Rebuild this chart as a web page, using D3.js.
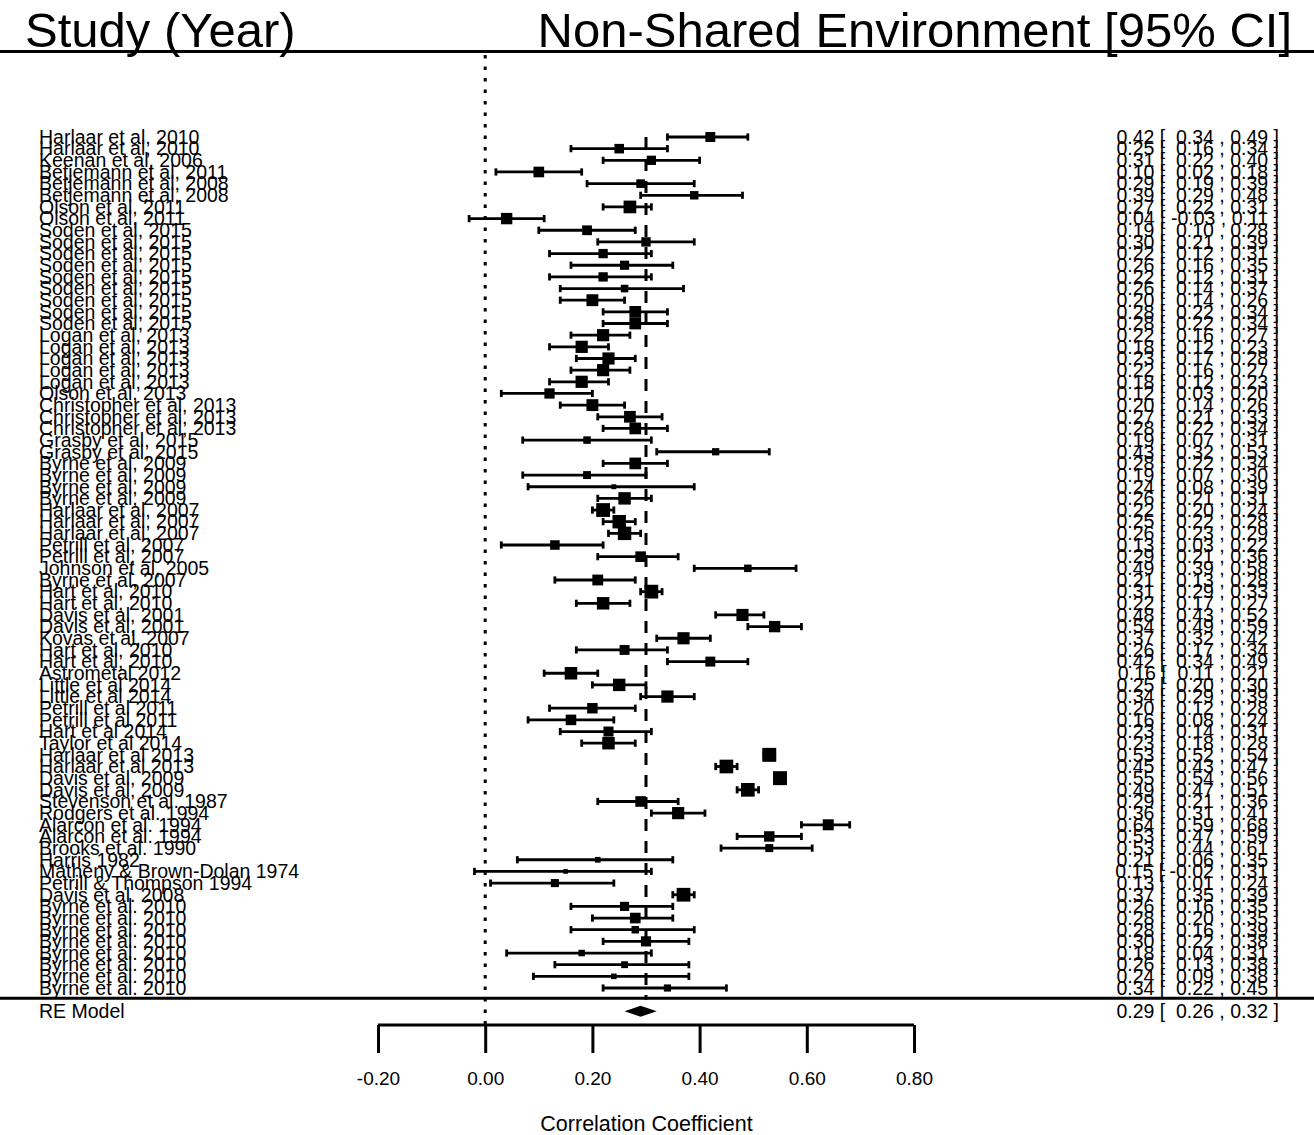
<!DOCTYPE html>
<html>
<head>
<meta charset="utf-8">
<script src="https://cdn.jsdelivr.net/npm/d3@7"></script>
<style>
  html, body { margin: 0; padding: 0; background: #fff; }
  svg { display: block; }
  text { font-family: "Liberation Sans", Arial, sans-serif; fill: #000; }
</style>
</head>
<body>
<svg id="chart" width="1314" height="1135"></svg>
<script>
// Study labels, top to bottom
const studies = [
  "Harlaar et al, 2010", "Harlaar et al, 2010", "Keenan et al, 2006", "Betjemann et al, 2011",
  "Betjemann et al, 2008", "Betjemann et al, 2008", "Olson et al, 2011", "Olson et al, 2011",
  "Soden et al, 2015", "Soden et al, 2015", "Soden et al, 2015", "Soden et al, 2015",
  "Soden et al, 2015", "Soden et al, 2015", "Soden et al, 2015", "Soden et al, 2015",
  "Soden et al, 2015", "Logan et al, 2013", "Logan et al, 2013", "Logan et al, 2013",
  "Logan et al, 2013", "Logan et al, 2013", "Olson et al, 2013", "Christopher et al, 2013",
  "Christopher et al, 2013", "Christopher et al, 2013", "Grasby et al, 2015", "Grasby et al, 2015",
  "Byrne et al, 2009", "Byrne et al, 2009", "Byrne et al, 2009", "Byrne et al, 2009",
  "Harlaar et al, 2007", "Harlaar et al, 2007", "Harlaar et al, 2007", "Petrill et al, 2007",
  "Petrill et al, 2007", "Johnson et al, 2005", "Byrne et al, 2007", "Hart et al, 2010",
  "Hart et al, 2010", "Davis et al, 2001", "Davis et al, 2001", "Kovas et al, 2007",
  "Hart et al, 2010", "Hart et al, 2010", "Astrometal 2012", "Little et al 2014",
  "Little et al 2014", "Petrill et al 2011", "Petrill et al 2011", "Hart et al 2014",
  "Taylor et al 2014", "Harlaar et al 2013", "Harlaar et al 2013", "Davis et al, 2009",
  "Davis et al, 2009", "Stevenson et al. 1987", "Rodgers et al. 1994", "Alarcon et al. 1994",
  "Alarcon et al. 1994", "Brooks et al. 1990", "Harris 1982", "Matheny & Brown-Dolan 1974",
  "Petrill & Thompson 1994", "Davis et al. 2008", "Byrne et al. 2010", "Byrne et al. 2010",
  "Byrne et al. 2010", "Byrne et al. 2010", "Byrne et al. 2010", "Byrne et al. 2010",
  "Byrne et al. 2010", "Byrne et al. 2010"
];

// Correlation estimates
const estimates = [
  0.42, 0.25, 0.31, 0.10, 0.29, 0.39, 0.27, 0.04,
  0.19, 0.30, 0.22, 0.26, 0.22, 0.26, 0.20, 0.28,
  0.28, 0.22, 0.18, 0.23, 0.22, 0.18, 0.12, 0.20,
  0.27, 0.28, 0.19, 0.43, 0.28, 0.19, 0.24, 0.26,
  0.22, 0.25, 0.26, 0.13, 0.29, 0.49, 0.21, 0.31,
  0.22, 0.48, 0.54, 0.37, 0.26, 0.42, 0.16, 0.25,
  0.34, 0.20, 0.16, 0.23, 0.23, 0.53, 0.45, 0.55,
  0.49, 0.29, 0.36, 0.64, 0.53, 0.53, 0.21, 0.15,
  0.13, 0.37, 0.26, 0.28, 0.28, 0.30, 0.18, 0.26,
  0.24, 0.34
];

// Lower 95% CI bounds
const lowerCI = [
  0.34, 0.16, 0.22, 0.02, 0.19, 0.29, 0.22, -0.03,
  0.10, 0.21, 0.12, 0.16, 0.12, 0.14, 0.14, 0.22,
  0.22, 0.16, 0.12, 0.17, 0.16, 0.12, 0.03, 0.14,
  0.21, 0.22, 0.07, 0.32, 0.22, 0.07, 0.08, 0.21,
  0.20, 0.22, 0.23, 0.03, 0.21, 0.39, 0.13, 0.29,
  0.17, 0.43, 0.49, 0.32, 0.17, 0.34, 0.11, 0.20,
  0.29, 0.12, 0.08, 0.14, 0.18, 0.52, 0.43, 0.54,
  0.47, 0.21, 0.31, 0.59, 0.47, 0.44, 0.06, -0.02,
  0.01, 0.35, 0.16, 0.20, 0.16, 0.22, 0.04, 0.13,
  0.09, 0.22
];

// Upper 95% CI bounds
const upperCI = [
  0.49, 0.34, 0.40, 0.18, 0.39, 0.48, 0.31, 0.11,
  0.28, 0.39, 0.31, 0.35, 0.31, 0.37, 0.26, 0.34,
  0.34, 0.27, 0.23, 0.28, 0.27, 0.23, 0.20, 0.26,
  0.33, 0.34, 0.31, 0.53, 0.34, 0.30, 0.39, 0.31,
  0.24, 0.28, 0.29, 0.22, 0.36, 0.58, 0.28, 0.33,
  0.27, 0.52, 0.59, 0.42, 0.34, 0.49, 0.21, 0.30,
  0.39, 0.28, 0.24, 0.31, 0.28, 0.54, 0.47, 0.56,
  0.51, 0.36, 0.41, 0.68, 0.59, 0.61, 0.35, 0.31,
  0.24, 0.39, 0.35, 0.35, 0.39, 0.38, 0.31, 0.38,
  0.38, 0.45
];

// Random-effects summary: estimate, lower, upper
const pooledLabel = "RE Model";
const pooledValues = [0.29, 0.26, 0.32];
const summaryLine = 0.30;        // dashed reference at the overall mean
const nullLine = 0.00;           // dotted reference at zero
const tau2 = 0.008;              // between-study variance used for point weights

const axisTicks = [-0.20, 0.00, 0.20, 0.40, 0.60, 0.80];
const xTitle = "Correlation Coefficient";
const leftHeader = "Study (Year)";
const rightHeader = "Non-Shared Environment [95% CI]";

// ---------------------------------------------------------------
const W = 1314, H = 1135;
const svg = d3.select("#chart");
const n = studies.length;
// two decimals, plain hyphen for negatives
const fmt = v => d3.format(".2f")(v).replace("\u2212", "-");

const x = d3.scaleLinear().domain([-0.2, 0.8]).range([378, 914]);
// rows counted from the bottom: study rows n..1, separator at 0, summary at -1
const y = d3.scaleLinear().domain([1, n]).range([988, 137]);

const rows = studies.map((s, i) => ({
  label: s, est: estimates[i], lb: lowerCI[i], ub: upperCI[i], row: n - i
}));

// point size from random-effects weights (Fisher z scale)
rows.forEach(d => {
  const se = (Math.atanh(d.ub) - Math.atanh(d.lb)) / (2 * 1.96);
  d.w = 1 / (se * se + tau2);
});
const wExt = d3.extent(rows, d => d.w);
const psize = d3.scaleLinear().domain(wExt).range([0.5, 1.5]);
const unit = 9.3;

const capH = 3.6;
const lineW = 2.8;

// headers
svg.append("text").attr("x", 25).attr("y", 47)
  .style("font-size", "49px").text(leftHeader);
svg.append("text").attr("x", 1292).attr("y", 47).attr("text-anchor", "end")
  .style("font-size", "49px").text(rightHeader);
svg.append("line").attr("x1", 0).attr("x2", W).attr("y1", 51.5).attr("y2", 51.5)
  .attr("stroke", "#000").attr("stroke-width", 3);

// reference lines
svg.append("line")
  .attr("x1", x(nullLine)).attr("x2", x(nullLine)).attr("y1", 55).attr("y2", 1030)
  .attr("stroke", "#000").attr("stroke-width", 3).attr("stroke-dasharray", "3.5,8");
svg.append("line")
  .attr("x1", x(summaryLine)).attr("x2", x(summaryLine)).attr("y1", y(n)).attr("y2", y(0))
  .attr("stroke", "#000").attr("stroke-width", 3).attr("stroke-dasharray", "12,10");

// separator line above summary
svg.append("line").attr("x1", 0).attr("x2", W).attr("y1", y(0) - 1.5).attr("y2", y(0) - 1.5)
  .attr("stroke", "#000").attr("stroke-width", 3);

// study rows
const g = svg.append("g");
const rowG = g.selectAll("g.row").data(rows).join("g").attr("class", "row");

rowG.append("line")
  .attr("x1", d => x(d.lb)).attr("x2", d => x(d.ub))
  .attr("y1", d => y(d.row)).attr("y2", d => y(d.row))
  .attr("stroke", "#000").attr("stroke-width", lineW);
rowG.append("line")
  .attr("x1", d => x(d.lb)).attr("x2", d => x(d.lb))
  .attr("y1", d => y(d.row) - capH).attr("y2", d => y(d.row) + capH)
  .attr("stroke", "#000").attr("stroke-width", lineW);
rowG.append("line")
  .attr("x1", d => x(d.ub)).attr("x2", d => x(d.ub))
  .attr("y1", d => y(d.row) - capH).attr("y2", d => y(d.row) + capH)
  .attr("stroke", "#000").attr("stroke-width", lineW);
rowG.append("rect")
  .attr("x", d => x(d.est) - psize(d.w) * unit / 2)
  .attr("y", d => y(d.row) - psize(d.w) * unit / 2)
  .attr("width", d => psize(d.w) * unit)
  .attr("height", d => psize(d.w) * unit)
  .attr("fill", "#000");

const labelFont = "19.5px";
const baseOff = 6.8;

rowG.append("text")
  .attr("x", 39).attr("y", d => y(d.row) + baseOff)
  .style("font-size", labelFont).text(d => d.label);

const annot = (e, l, u) => `${fmt(e)} [ ${fmt(l).padStart(5, " ")} , ${fmt(u)} ]`;

rowG.append("text")
  .attr("x", 1279).attr("y", d => y(d.row) + baseOff)
  .attr("text-anchor", "end").attr("xml:space", "preserve")
  .style("white-space", "pre").style("font-size", labelFont)
  .text(d => annot(d.est, d.lb, d.ub));

// summary row
const [pe, pl, pu] = pooledValues;
const ys = y(-1);
svg.append("polygon")
  .attr("points", [[x(pl), ys], [x(pe), ys - 5.5], [x(pu), ys], [x(pe), ys + 5.5]].map(p => p.join(",")).join(" "))
  .attr("fill", "#000");
svg.append("text").attr("x", 39).attr("y", ys + baseOff)
  .style("font-size", labelFont).text(pooledLabel);
svg.append("text").attr("x", 1279).attr("y", ys + baseOff)
  .attr("text-anchor", "end").attr("xml:space", "preserve")
  .style("white-space", "pre").style("font-size", labelFont)
  .text(annot(pe, pl, pu));

// x axis
const axisY = 1025;
const axis = d3.axisBottom(x).tickValues(axisTicks).tickFormat(fmt)
  .tickSize(28).tickPadding(18).tickSizeOuter(0);
const ag = svg.append("g").attr("transform", `translate(0,${axisY})`).call(axis);
ag.select(".domain").attr("stroke", "#000").attr("stroke-width", 3)
  .attr("d", `M${x.range()[0]},0H${x.range()[1]}`);
ag.selectAll(".tick line").attr("stroke", "#000").attr("stroke-width", 3);
ag.selectAll(".tick text")
  .style("font-family", "'Liberation Sans', Arial, sans-serif")
  .style("font-size", "19px").attr("fill", "#000")
  .attr("y", 0).attr("dy", null).attr("transform", "translate(0,60)");

svg.append("text").attr("x", (x(-0.2) + x(0.8)) / 2 + 0.5).attr("y", 1131)
  .attr("text-anchor", "middle").style("font-size", "21.5px").text(xTitle);
</script>
</body>
</html>
